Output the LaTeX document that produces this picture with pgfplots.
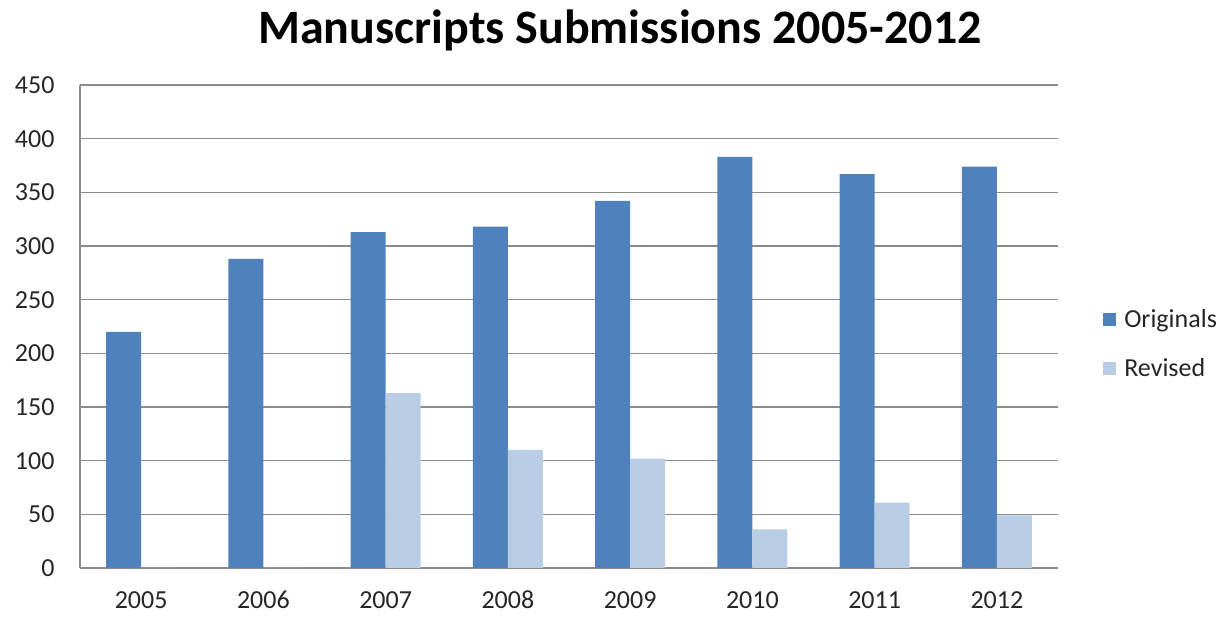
\documentclass[border=0pt]{standalone}
\usepackage{pgfplots}
\pgfplotsset{compat=1.18}
\usepackage{fontspec}
\setmainfont{Carlito}
\definecolor{orig}{HTML}{4F81BD}
\definecolor{rev}{HTML}{B9CDE5}
\definecolor{gridc}{HTML}{8C8C8C}
\begin{document}
\begin{tikzpicture}
\useasboundingbox (-80pt,-49pt) rectangle (1145pt,568pt);
\begin{axis}[
  at={(0,0)}, anchor=south west,
  scale only axis, width=978pt, height=483pt,
  xmin=-0.5, xmax=7.5, ymin=0, ymax=450,
  ytick={0,50,...,450},
  xtick={0,...,7},
  xticklabels={2005,2006,2007,2008,2009,2010,2011,2012},
  /pgf/number format/assume math mode=true,
  ticklabel style={font=\fontsize{26}{30}\selectfont, text=black!85},
  yticklabel style={xshift=-22pt},
  xticklabel style={anchor=base, inner sep=0pt, yshift=-41pt},
  major tick length=0pt,
  ymajorgrids, grid style={gridc, line width=1.2pt},
  axis x line*=bottom, axis y line*=left,
  axis line style={gridc, line width=1.2pt, -},
  ybar=0pt, bar width=35pt,
  legend style={at={(1.043,0.464)}, anchor=west, draw=none, fill=none,
    font=\fontsize{26}{30}\selectfont, row sep=25pt, text=black!85,
    /tikz/every odd column/.append style={column sep=6pt}},
  legend cell align=left,
  legend image code/.code={\fill[#1] (-4pt,-6.5pt) rectangle (9pt,6.5pt);},
  title={\textbf{Manuscripts Submissions 2005-2012}},
  title style={font=\fontsize{48}{56}\selectfont, at={(0.552,1)}, anchor=center, yshift=49pt},
]
\addplot[fill=orig, draw=none] coordinates {(0,220) (1,288) (2,313) (3,318) (4,342) (5,383) (6,367) (7,374)};
\addplot[fill=rev, draw=none] coordinates {(0,0) (1,0) (2,163) (3,110) (4,102) (5,36) (6,61) (7,49)};
\legend{Originals,Revised}
\end{axis}
\end{tikzpicture}
\end{document}
